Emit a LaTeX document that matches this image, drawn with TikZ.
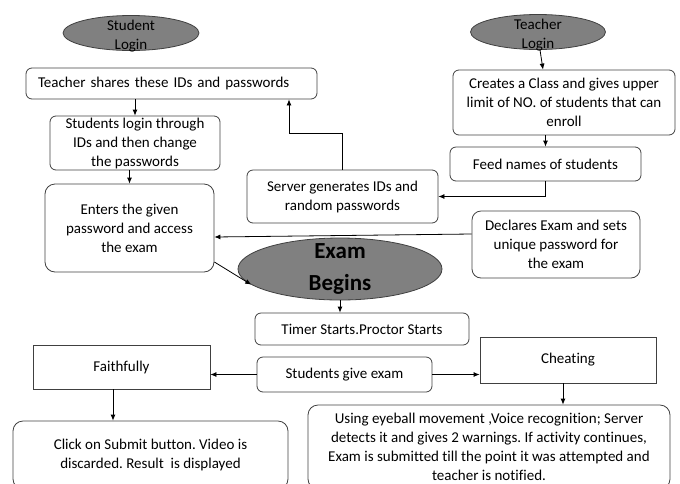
\documentclass[tikz,border=0pt]{standalone}
\usepackage{fontspec}
\setmainfont[Ligatures=NoCommon]{Carlito}
\usetikzlibrary{shapes.geometric,arrows.meta}
\frenchspacing
\begin{document}
\begin{tikzpicture}[x=1pt, y=-1pt,
    box/.style={draw=black!75, line width=0.8pt, rounded corners=6pt, align=center, inner sep=0pt, font=\fontsize{15}{19}\selectfont},
    sqbox/.style={box, rounded corners=0pt},
    login/.style={ellipse, draw=black!75, fill=gray, line width=0.8pt, inner sep=0pt},
    lbl/.style={align=center, inner sep=0pt, yshift=-3pt, font=\fontsize{15}{19}\selectfont},
    biglbl/.style={align=center, inner sep=0pt, font=\fontsize{23}{32}\selectfont\bfseries},
    arr/.style={-{Latex[length=6pt,width=5pt]}, line width=0.8pt}]
    \useasboundingbox (0,0) rectangle (680,483);
    % left column
    \node[login, minimum width=136pt, minimum height=35pt, label={[lbl]center:Student\\Login}] (slog) at (131,33) {};
    \node[box, minimum width=291pt, minimum height=31pt, text width=267pt, align=left] (share) at (171.5,83.5) {Teacher shares these IDs and passwords};
    \node[box, minimum width=170pt, minimum height=54pt] (stud) at (135,143) {Students login through\\IDs and then change\\the passwords};
    \node[box, rounded corners=10pt, minimum width=169pt, minimum height=88pt] (enter) at (129.5,228) {Enters the given\\password and access\\the exam};
    \node[box, minimum width=191pt, minimum height=53pt] (server) at (342.5,196.5) {Server generates IDs and\\random passwords};
    % right column
    \node[login, minimum width=135pt, minimum height=35pt, label={[lbl]center:Teacher\\Login}] (tlog) at (538,32) {};
    \node[box, minimum width=222pt, minimum height=65pt] (create) at (564,102.5) {Creates a Class and gives upper\\limit of NO. of students that can\\enroll};
    \node[box, minimum width=191pt, minimum height=34pt] (feed) at (545.5,164) {Feed names of students};
    \node[box, rounded corners=9pt, minimum width=168pt, minimum height=67pt] (declare) at (556,244.5) {Declares Exam and sets\\unique password for\\the exam};
    % exam
    \node[login, minimum width=204pt, minimum height=62pt, label={[biglbl]center:Exam\\Begins}] (exam) at (340,269) {};
    \node[box, minimum width=214pt, minimum height=32pt] (timer) at (362,329) {Timer Starts.Proctor Starts};
    \node[box, minimum width=175pt, minimum height=35pt] (give) at (344.5,374.5) {Students give exam};
    \node[sqbox, minimum width=177pt, minimum height=44pt] (faith) at (121.5,367) {Faithfully};
    \node[sqbox, minimum width=176pt, minimum height=46pt] (cheat) at (568,360) {Cheating};
    \node[box, rounded corners=10pt, minimum width=275pt, minimum height=68pt] (click) at (150.5,455) {Click on Submit button. Video is\\discarded. Result\ \ is displayed};
    \node[box, rounded corners=10pt, minimum width=362pt, minimum height=84pt] (use) at (489,447) {Using eyeball movement ,Voice recognition; Server\\detects it and gives 2 warnings. If activity continues,\\Exam is submitted till the point it was attempted and\\teacher is notified.};
    % connectors
    \draw[arr] (stud.north |- share.south) -- (stud.north);
    \draw[arr] (enter.north |- stud.south) -- (enter.north);
    \draw[arr] (server.north) -- ++(0,-36) -| ([xshift=117.5pt]share.south);
    \draw[arr] ([xshift=2pt]tlog.south) -- ([xshift=-21pt]create.north);
    \draw[arr] (feed.north |- create.south) -- (feed.north);
    \draw[arr] (feed.south) |- (server.east);
    \draw[arr] ([yshift=10.5pt]declare.west) -- ([yshift=-9pt]enter.east);
    \draw[arr] ([yshift=-34pt]enter.east) -- (exam.190);
    \draw[arr] (exam.south) -- (exam.south |- timer.north);
    \draw[arr] (give.west) -- (give.west -| faith.east);
    \draw[arr] (give.east) -- (give.east -| cheat.west);
    \draw[arr] ([xshift=-8.5pt]faith.south) -- ([xshift=-8.5pt]faith.south |- click.north);
    \draw[arr] ([xshift=-5pt]cheat.south) -- ([xshift=-5pt]cheat.south |- use.north);
\end{tikzpicture}
\end{document}
